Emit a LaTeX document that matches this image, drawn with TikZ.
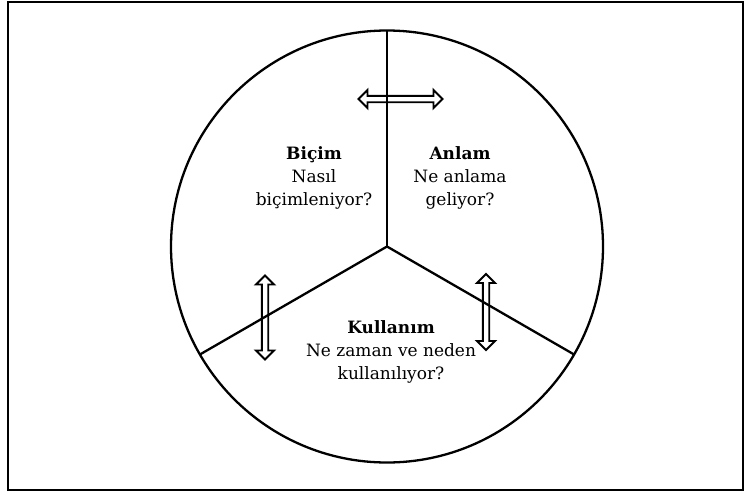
\documentclass[tikz,border=0pt]{standalone}
\usepackage{fontspec}
\setmainfont{DejaVu Serif}
\tikzset{
  frame/.style={draw=black, line width=2.2pt},
  ring/.style={draw=black, line width=2.3pt},
  spoke/.style={draw=black, line width=2.3pt},
  arrowshape/.style={draw=black, fill=white, line width=1.9pt, line join=miter},
  pics/biarrow/.style={code={
    \draw[arrowshape] ({-#1/2},0) -- ({-#1/2+9},-9) -- ({-#1/2+9},-3.2) -- ({#1/2-9},-3.2)
      -- ({#1/2-9},-9) -- ({#1/2},0) -- ({#1/2-9},9) -- ({#1/2-9},3.2)
      -- ({-#1/2+9},3.2) -- ({-#1/2+9},9) -- cycle;
  }},
  label/.style={align=center, font=\fontsize{17}{23}\selectfont, inner sep=0pt}
}
\begin{document}
\begin{tikzpicture}[x=1pt,y=-1pt]
\useasboundingbox (0,0) rectangle (754,493);
\draw[frame] (8,2) rectangle (743,490);
\coordinate (c) at (387,246.5);
\coordinate (top) at (387,30.5);
\coordinate (ll) at (199.9,354.5);
\coordinate (lr) at (574.1,354.5);
\draw[ring] (c) circle[radius=216pt];
% arrows
\pic at (400.5,99) {biarrow=84};
\pic[rotate=90] at (265,317.5) {biarrow=84};
\pic[rotate=90] at (486,312) {biarrow=76};
\draw[spoke] (c) -- (top);
\draw[spoke] (c) -- (ll);
\draw[spoke] (c) -- (lr);
% labels
\node[label] (bicim) at (314,178) {\textbf{Biçim}\\Nasıl\\biçimleniyor?};
\node[label] (anlam) at (460,178) {\textbf{Anlam}\\Ne anlama\\geliyor?};
\node[label] (kull) at (391,352) {\textbf{Kullanım}\\Ne zaman ve neden\\kullanılıyor?};
\end{tikzpicture}
\end{document}
